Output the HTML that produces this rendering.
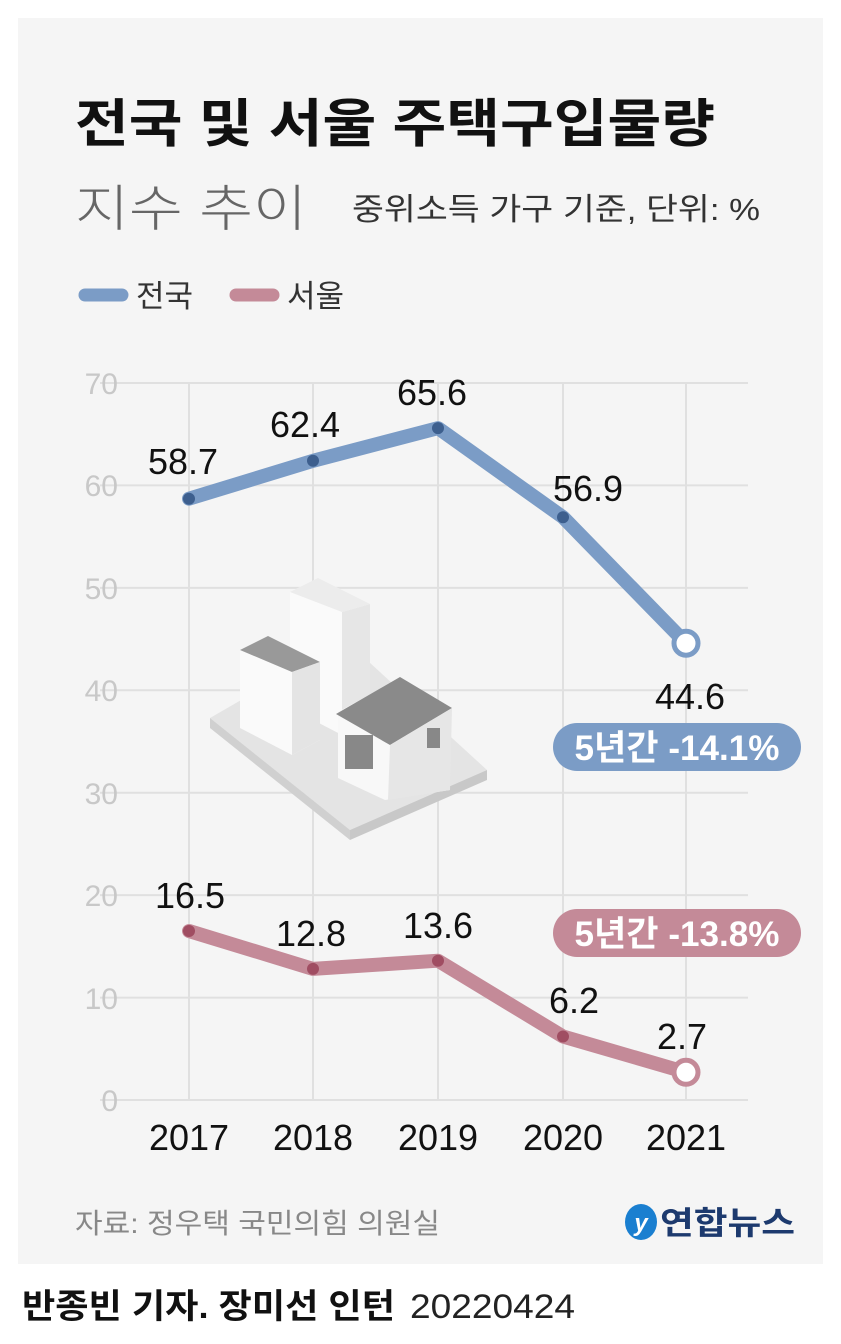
<!DOCTYPE html>
<html><head><meta charset="utf-8"><style>
html,body{margin:0;padding:0;background:#fff;}
body{width:841px;height:1339px;overflow:hidden;font-family:"Liberation Sans","Noto Sans CJK KR",sans-serif;}
</style></head><body>
<svg width="841" height="1339" viewBox="0 0 841 1339" xmlns="http://www.w3.org/2000/svg" font-family="Liberation Sans, Noto Sans CJK KR, sans-serif">
<rect x="18" y="18" width="805" height="1246" fill="#f5f5f5"/>
<text x="75" y="142" font-size="52" font-weight="bold" fill="#111" textLength="640" lengthAdjust="spacingAndGlyphs">전국 및 서울 주택구입물량</text>
<text x="75" y="226" font-size="50" fill="#666" font-weight="300" textLength="232" lengthAdjust="spacingAndGlyphs">지수 추이</text>
<text x="352" y="220" font-size="31" fill="#333" textLength="408" lengthAdjust="spacingAndGlyphs">중위소득 가구 기준, 단위: %</text>
<line x1="85" y1="295" x2="122" y2="295" stroke="#7b9cc6" stroke-width="13" stroke-linecap="round"/>
<text x="136" y="307" font-size="31" fill="#333">전국</text>
<line x1="236" y1="295" x2="273" y2="295" stroke="#c48a98" stroke-width="13" stroke-linecap="round"/>
<text x="287" y="307" font-size="31" fill="#333">서울</text>
<g stroke="#e0e0e0" stroke-width="2">
<line x1="100" y1="383" x2="748" y2="383"/><line x1="100" y1="485.4" x2="748" y2="485.4"/>
<line x1="100" y1="587.9" x2="748" y2="587.9"/><line x1="100" y1="690.3" x2="748" y2="690.3"/>
<line x1="100" y1="792.7" x2="748" y2="792.7"/><line x1="100" y1="895.1" x2="748" y2="895.1"/>
<line x1="100" y1="997.6" x2="748" y2="997.6"/><line x1="100" y1="1100" x2="748" y2="1100"/>
<line x1="189" y1="383" x2="189" y2="1100"/><line x1="313" y1="383" x2="313" y2="1100"/>
<line x1="438" y1="383" x2="438" y2="1100"/><line x1="563" y1="383" x2="563" y2="1100"/>
<line x1="686" y1="383" x2="686" y2="1100"/>
</g>
<g font-size="30" fill="#c8c8c8" text-anchor="end">
<text x="118" y="394">70</text><text x="118" y="496">60</text><text x="118" y="599">50</text>
<text x="118" y="701">40</text><text x="118" y="804">30</text><text x="118" y="906">20</text>
<text x="118" y="1009">10</text><text x="118" y="1111">0</text>
</g>
<g font-size="36" fill="#111" text-anchor="middle">
<text x="189" y="1150">2017</text><text x="313" y="1150">2018</text><text x="438" y="1150">2019</text>
<text x="563" y="1150">2020</text><text x="686" y="1150">2021</text>
</g>
<!-- illustration -->
<g>
<polygon points="210,718 345,640 487,770 350,830" fill="#e4e4e4"/>
<polygon points="210,718 350,830 350,840 210,728" fill="#d0d0d0"/>
<polygon points="350,830 487,770 487,780 350,840" fill="#c8c8c8"/>
<polygon points="290,592 318,578 370,604 370,720 342,735 290,708" fill="#fafafa"/>
<polygon points="342,612 370,604 370,720 342,735" fill="#e6e6e6"/>
<polygon points="290,592 318,578 370,604 342,612" fill="#ececec"/>
<polygon points="240,650 268,636 320,662 320,740 292,755 240,728" fill="#fafafa"/>
<polygon points="240,650 268,636 320,662 292,672" fill="#999"/>
<polygon points="292,672 320,662 320,740 292,755" fill="#e4e4e4"/>
<polygon points="338,712 400,678 450,708 450,790 385,800 338,778" fill="#f8f8f8"/>
<polygon points="336,714 400,677 452,708 390,745" fill="#8a8a8a"/>
<polygon points="390,745 452,708 450,790 388,800" fill="#e6e6e6"/>
<rect x="345" y="735" width="28" height="34" fill="#888"/>
<rect x="427" y="728" width="13" height="20" fill="#888"/>
</g>
<polyline points="189,498.7 313,460.8 438,428.1 563,517.2 686,643.2" fill="none" stroke="#7b9cc6" stroke-width="14" stroke-linejoin="round" stroke-linecap="round"/>
<polyline points="189,931 313,968.9 438,960.7 563,1036.5 686,1072.3" fill="none" stroke="#c48a98" stroke-width="14" stroke-linejoin="round" stroke-linecap="round"/>
<g fill="#3d5f8e"><circle cx="189" cy="498.7" r="6"/><circle cx="313" cy="460.8" r="6"/><circle cx="438" cy="428.1" r="6"/><circle cx="563" cy="517.2" r="6"/></g>
<circle cx="686" cy="643.2" r="12" fill="#fff" stroke="#7b9cc6" stroke-width="5"/>
<g fill="#a04d62"><circle cx="189" cy="931" r="6"/><circle cx="313" cy="968.9" r="6"/><circle cx="438" cy="960.7" r="6"/><circle cx="563" cy="1036.5" r="6"/></g>
<circle cx="686" cy="1072.3" r="12" fill="#fff" stroke="#c48a98" stroke-width="5"/>
<g font-size="36" fill="#111" text-anchor="middle">
<text x="183" y="474">58.7</text><text x="305" y="437">62.4</text><text x="432" y="405">65.6</text>
<text x="588" y="501">56.9</text><text x="690" y="709">44.6</text>
<text x="190" y="908">16.5</text><text x="311" y="946">12.8</text><text x="438" y="938">13.6</text>
<text x="574" y="1013">6.2</text><text x="682" y="1049">2.7</text>
</g>
<rect x="553" y="723" width="248" height="48" rx="24" fill="#7b9cc6"/>
<text x="677" y="760" font-size="35" fill="#fff" text-anchor="middle" font-weight="bold" textLength="205" lengthAdjust="spacingAndGlyphs">5년간 -14.1%</text>
<rect x="553" y="909" width="248" height="48" rx="24" fill="#c48a98"/>
<text x="677" y="946" font-size="35" fill="#fff" text-anchor="middle" font-weight="bold" textLength="205" lengthAdjust="spacingAndGlyphs">5년간 -13.8%</text>
<text x="75" y="1233" font-size="28" fill="#888" textLength="365" lengthAdjust="spacingAndGlyphs">자료: 정우택 국민의힘 의원실</text>
<ellipse cx="641" cy="1222" rx="16" ry="18" fill="#1a7fd0"/>
<text x="641" y="1231" font-size="24" fill="#fff" text-anchor="middle" font-style="italic" font-weight="bold">y</text>
<text x="660" y="1234" font-size="32" fill="#1d3a6e" font-weight="bold" textLength="135" lengthAdjust="spacingAndGlyphs">연합뉴스</text>
<text x="22" y="1318" font-size="34" fill="#111" font-weight="bold" textLength="373" lengthAdjust="spacingAndGlyphs">반종빈 기자. 장미선 인턴</text>
<text x="410" y="1318" font-size="34" fill="#222" textLength="165" lengthAdjust="spacingAndGlyphs">20220424</text>
</svg>
</body></html>
